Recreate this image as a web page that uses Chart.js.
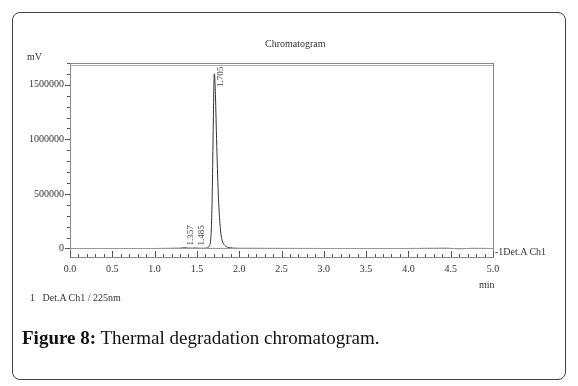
<!DOCTYPE html>
<html><head><meta charset="utf-8">
<script src="https://cdn.jsdelivr.net/npm/chart.js@4/dist/chart.umd.min.js"></script>
<style>
html,body{margin:0;padding:0;background:#fff;width:578px;height:386px;overflow:hidden;}
#wrap{position:relative;width:578px;height:386px;}
#box{position:absolute;left:12px;top:12px;width:554px;height:368px;border:1px solid #444;border-radius:8px;box-sizing:border-box;}
canvas{position:absolute;left:0;top:0;}
.t{position:absolute;font-family:"Liberation Serif","DejaVu Serif",serif;color:#333;white-space:nowrap;font-size:10px;}
#cap{position:absolute;left:22px;top:327px;font-family:"Liberation Serif",serif;font-size:19px;color:#111;}
</style></head>
<body><div id="wrap">
<div id="box"></div>
<canvas id="c" width="578" height="386"></canvas>
<div class="t" style="left:265px;top:38px;">Chromatogram</div>
<div class="t" style="left:27px;top:51px;">mV</div>
<div class="t" style="left:479px;top:279px;">min</div>
<div class="t" style="left:30px;top:292px;">1&nbsp;&nbsp;&nbsp;Det.A Ch1 / 225nm</div>
<div class="t" style="left:495px;top:246px;">-1Det.A Ch1</div>
<div id="cap"><b>Figure 8:</b> Thermal degradation chromatogram.</div>
</div>
<script>
const times  = [0, 0.5, 1.0, 1.15, 1.30, 1.357, 1.40, 1.45, 1.485, 1.52, 1.58, 1.62, 1.645, 1.66, 1.67, 1.68, 1.69, 1.70, 1.705, 1.71, 1.72, 1.73, 1.74, 1.75, 1.76, 1.78, 1.80, 1.83, 1.87, 1.92, 2.0, 2.5, 3.0, 3.5, 4.0, 4.45, 4.6, 4.75, 5.0];
const signal = [0, 0, 0, 1000, 2500, 7000, 3000, 2500, 5000, 2000, 2000, 5000, 20000, 60000, 170000, 450000, 950000, 1450000, 1600000, 1580000, 1380000, 1080000, 800000, 560000, 380000, 160000, 70000, 28000, 10000, 4000, 1500, 500, 0, 0, 0, 2000, -2000, 1000, 0];
const peakTimes  = [1.357, 1.485, 1.705];
const peakValues = [7000, 5000, 1600000];
const peakLabels = ["1.357", "1.485", "1.705"];
const xMajorTicks = [0, 0.5, 1.0, 1.5, 2.0, 2.5, 3.0, 3.5, 4.0, 4.5, 5.0];
const yMajorTicks = [0, 500000, 1000000, 1500000];

const xMinor = []; for (let i = 0; i <= 50; i++) xMinor.push(+(i/10).toFixed(1));
const yMinor = []; for (let i = 0; i <= 17; i++) yMinor.push(i*100000);

const framePlugin = {
  id: 'frame',
  afterDatasetsDraw(chart) {
    const {ctx, chartArea: a, scales: {x, y}} = chart;
    ctx.save();
    ctx.strokeStyle = '#888'; ctx.lineWidth = 1;
    ctx.strokeRect(a.left + 0.5, a.top + 0.5, a.right - a.left, a.bottom - a.top);
    ctx.beginPath(); ctx.moveTo(a.left, a.top + 2.5); ctx.lineTo(a.right, a.top + 2.5); ctx.strokeStyle = '#aaa'; ctx.stroke();
    ctx.strokeStyle = '#999';
    const yb = Math.round(y.getPixelForValue(0)) + 0.5;
    ctx.beginPath(); ctx.moveTo(a.left, yb); ctx.lineTo(a.right, yb); ctx.stroke();
    ctx.strokeStyle = '#555';
    xMinor.forEach(v => {
      const px = Math.round(x.getPixelForValue(v)) + 0.5;
      const major = xMajorTicks.some(m => Math.abs(m - v) < 1e-6);
      ctx.beginPath(); ctx.moveTo(px, a.bottom); ctx.lineTo(px, a.bottom - (major ? 6 : 3)); ctx.stroke();
    });
    yMinor.forEach(v => {
      const py = Math.round(y.getPixelForValue(v)) + 0.5;
      const major = yMajorTicks.includes(v);
      ctx.beginPath(); ctx.moveTo(a.left, py); ctx.lineTo(a.left - (major ? 5 : 3), py); ctx.stroke();
    });
    ctx.fillStyle = '#444';
    ctx.font = '9px "Liberation Serif", serif';
    ctx.textBaseline = 'middle';
    ctx.textAlign = 'left';
    peakTimes.forEach((t, i) => {
      const px = x.getPixelForValue(t) + 6;
      const py = Math.min(y.getPixelForValue(0) - 3, y.getPixelForValue(peakValues[i]) + 13);
      ctx.save(); ctx.translate(px, py); ctx.rotate(-Math.PI/2);
      ctx.fillText(peakLabels[i], 0, 0); ctx.restore();
    });
    ctx.restore();
  }
};

new Chart(document.getElementById('c'), {
  type: 'line',
  data: { datasets: [{
    data: times.map((t, i) => ({x: t, y: signal[i]})),
    borderColor: '#333', borderWidth: 1, pointRadius: 0,
    cubicInterpolationMode: 'monotone', fill: false
  }]},
  options: {
    responsive: false, animation: false,
    layout: { padding: { left: 0, right: 85, top: 63, bottom: 109 } },
    plugins: { legend: { display: false }, tooltip: { enabled: false } },
    scales: {
      x: {
        type: 'linear', min: 0, max: 5,
        afterBuildTicks: s => { s.ticks = xMajorTicks.map(v => ({value: v})); },
        afterFit: s => { s.height = 20; },
        grid: { display: false, drawTicks: false },
        border: { display: false },
        ticks: { padding: 6, color: '#333', font: { family: '"Liberation Serif", serif', size: 10 },
          callback: v => v.toFixed(1), maxRotation: 0 }
      },
      y: {
        type: 'linear', min: -78000, max: 1700000,
        afterBuildTicks: s => { s.ticks = yMajorTicks.map(v => ({value: v})); },
        afterFit: s => { s.width = 70; },
        grid: { display: false, drawTicks: false },
        border: { display: false },
        ticks: { padding: 6, color: '#333', font: { family: '"Liberation Serif", serif', size: 10 },
          callback: v => String(v) }
      }
    }
  },
  plugins: [framePlugin]
});
</script>
</body></html>
